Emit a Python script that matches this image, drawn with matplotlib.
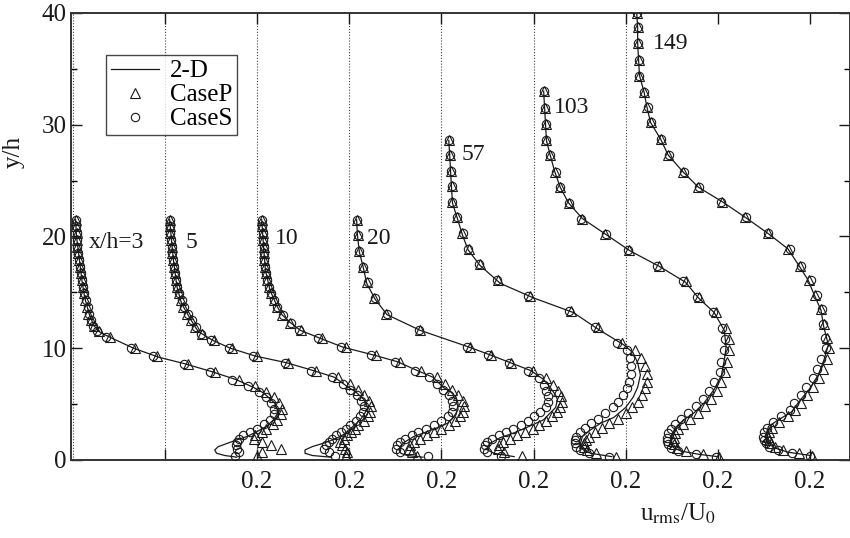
import matplotlib
matplotlib.use("Agg")
import matplotlib.pyplot as plt
from matplotlib.ticker import MultipleLocator

plt.rcParams["font.family"] = ["Liberation Serif", "DejaVu Serif"]
plt.rcParams["mathtext.fontset"] = "stix"

# streamwise stations x/h and their labels
x_stations = [3, 5, 10, 20, 57, 103, 149]
station_labels = ["x/h=3", "5", "10", "20", "57", "103", "149"]

# ---- 2-D computation (solid line): y/h and u_rms/U0 per station ----
line_y_3 = [21.5, 20, 18, 16, 14.5, 13, 12, 11.4, 10.8, 10.0, 9.2, 8.6, 7.9, 7.2, 6.5, 6.0, 5.1, 4.3, 3.6, 3.0,
            2.5, 2.1, 1.8, 1.5, 1.2, 0.9, 0.6, 0.4, 0.25]
line_u_3 = [0.003, 0.004, 0.007, 0.010, 0.013, 0.018, 0.023, 0.030, 0.045, 0.066, 0.093, 0.122, 0.151, 0.177,
            0.196, 0.207, 0.219, 0.223, 0.218, 0.210, 0.199, 0.189, 0.178, 0.168, 0.158, 0.154, 0.156, 0.165, 0.178]
line_y_5 = [21.5, 18, 15.5, 14, 12.7, 11.5, 10.7, 10.0, 9.3, 8.7, 8.0, 7.4, 6.5, 6.1, 5.4, 4.7, 4.2, 3.6, 3.0, 2.5,
            2.1, 1.8, 1.5, 1.2, 0.9, 0.6, 0.4, 0.25]
line_u_5 = [0.005, 0.009, 0.013, 0.018, 0.027, 0.036, 0.052, 0.071, 0.098, 0.132, 0.161, 0.184, 0.199, 0.207,
            0.216, 0.220, 0.217, 0.212, 0.204, 0.198, 0.190, 0.182, 0.172, 0.160, 0.152, 0.152, 0.160, 0.180]
line_y_10 = [21.5, 19.1, 17.0, 15.2, 13.7, 13.0, 12.3, 11.6, 10.9, 10.1, 9.4, 8.8, 8.0, 7.4, 6.5, 6.1, 5.6, 5.1,
             4.5, 3.8, 3.3, 2.9, 2.4, 2.1, 1.6, 1.2, 0.9, 0.6, 0.4, 0.25]
line_u_10 = [0.005, 0.007, 0.009, 0.014, 0.022, 0.027, 0.036, 0.047, 0.068, 0.093, 0.126, 0.152, 0.174, 0.191,
             0.202, 0.210, 0.216, 0.218, 0.218, 0.213, 0.207, 0.196, 0.180, 0.170, 0.160, 0.155, 0.154, 0.156,
             0.163, 0.180]
line_y_20 = [21.5, 20.0, 18.6, 17.3, 15.8, 14.4, 13.0, 11.6, 10.1, 9.4, 8.7, 8.0, 7.2, 6.5, 5.8, 5.4, 4.7, 4.2,
             3.6, 3.3, 3.0, 2.4, 2.0, 1.5, 1.2, 0.9, 0.6, 0.3]
line_u_20 = [0.008, 0.009, 0.011, 0.015, 0.019, 0.028, 0.041, 0.077, 0.130, 0.153, 0.175, 0.197, 0.211, 0.218,
             0.224, 0.226, 0.224, 0.218, 0.211, 0.203, 0.195, 0.178, 0.164, 0.153, 0.150, 0.150, 0.157, 0.179]
line_y_57 = [28.6, 27.3, 25.8, 24.4, 23.0, 21.7, 20.1, 18.8, 17.4, 15.8, 14.5, 13.2, 11.6, 10.3, 9.6, 8.7, 7.6,
             6.5, 5.6, 4.7, 3.8, 3.3, 2.7, 2.1, 1.5, 1.2, 0.9, 0.6, 0.3]
line_u_57 = [0.008, 0.009, 0.010, 0.011, 0.012, 0.017, 0.023, 0.029, 0.042, 0.064, 0.100, 0.143, 0.172, 0.198,
             0.208, 0.213, 0.216, 0.213, 0.208, 0.200, 0.187, 0.173, 0.162, 0.153, 0.151, 0.151, 0.154, 0.162, 0.185]
line_y_103 = [33.0, 31.5, 30.1, 28.6, 27.3, 25.8, 24.4, 23.0, 21.6, 20.1, 18.7, 17.3, 15.9, 14.5, 13.2, 11.6,
              10.1, 8.9, 7.6, 6.3, 5.1, 4.2, 3.6, 2.9, 2.1, 1.5, 1.1, 0.8, 0.5, 0.3]
line_u_103 = [0.011, 0.012, 0.013, 0.014, 0.018, 0.023, 0.029, 0.038, 0.053, 0.080, 0.105, 0.137, 0.165, 0.179,
              0.196, 0.207, 0.209, 0.207, 0.204, 0.196, 0.185, 0.174, 0.163, 0.154, 0.149, 0.149, 0.152, 0.160,
              0.180, 0.200]
line_y_149 = [40, 38.7, 37.3, 35.8, 34.4, 32.9, 31.6, 30.2, 28.7, 27.3, 25.8, 24.4, 23.1, 21.7, 20.3, 18.9, 17.4,
              16.1, 14.9, 13.4, 11.9, 10.3, 8.9, 7.6, 6.3, 5.2, 4.3, 3.6, 3.0, 2.2, 1.6, 1.1, 0.7, 0.4]
line_u_149 = [0.012, 0.013, 0.013, 0.014, 0.015, 0.020, 0.023, 0.027, 0.038, 0.046, 0.062, 0.079, 0.105, 0.130,
              0.154, 0.176, 0.188, 0.198, 0.204, 0.212, 0.215, 0.220, 0.215, 0.209, 0.199, 0.188, 0.180, 0.166,
              0.155, 0.152, 0.154, 0.161, 0.176, 0.201]

# ---- measured points: y/h, CaseP and CaseS u_rms/U0 ----
pts_y_3 = [21.5, 20.9, 20.3, 19.7, 19.1, 18.5, 17.9, 17.3, 16.7, 16.1, 15.5, 14.9, 14.3, 13.7, 13.1, 12.5, 12.0,
           11.5, 11.0, 10.0, 9.3, 8.6, 7.9, 7.2, 6.6, 6.1, 5.6, 5.1, 4.6, 4.1, 3.6, 3.2, 2.8, 2.5, 2.2, 1.9, 1.6,
           1.3, 1.0, 0.7, 0.4]
caseP_3 = [0.003, 0.003, 0.004, 0.004, 0.005, 0.006, 0.007, 0.008, 0.009, 0.010, 0.011, 0.012, 0.013, 0.015,
           0.017, 0.020, 0.023, 0.028, 0.040, 0.068, 0.091, 0.125, 0.154, 0.180, 0.198, 0.210, 0.218, 0.224,
           0.227, 0.226, 0.222, 0.217, 0.210, 0.205, 0.198, 0.197, 0.205, 0.215, 0.226, 0.205, 0.200]
caseS_3 = [0.003, 0.003, 0.004, 0.004, 0.005, 0.006, 0.007, 0.008, 0.009, 0.010, 0.011, 0.012, 0.014, 0.016,
           0.018, 0.020, 0.022, 0.026, 0.036, 0.063, 0.087, 0.121, 0.149, 0.173, 0.190, 0.202, 0.210, 0.215,
           0.218, 0.218, 0.214, 0.208, 0.200, 0.192, 0.185, 0.180, 0.178, 0.177, 0.178, 0.180, 0.176]
pts_y_5 = [21.5, 20.9, 20.3, 19.7, 19.1, 18.5, 17.9, 17.3, 16.7, 16.1, 15.5, 14.9, 14.3, 13.7, 13.1, 12.5, 11.9,
           11.3, 10.7, 10.0, 9.3, 8.7, 8.0, 7.4, 6.8, 6.3, 5.8, 5.3, 4.8, 4.3, 3.9, 3.5, 3.1, 2.8, 2.5, 2.2, 1.9,
           1.6, 1.3, 1.0, 0.7, 0.4]
caseP_5 = [0.005, 0.006, 0.006, 0.007, 0.008, 0.008, 0.009, 0.010, 0.011, 0.012, 0.013, 0.015, 0.017, 0.020,
           0.024, 0.028, 0.033, 0.040, 0.053, 0.073, 0.100, 0.134, 0.164, 0.188, 0.201, 0.209, 0.216, 0.221,
           0.224, 0.223, 0.220, 0.216, 0.210, 0.206, 0.202, 0.198, 0.194, 0.190, 0.192, 0.195, 0.198, 0.196]
caseS_5 = [0.005, 0.006, 0.006, 0.007, 0.008, 0.008, 0.009, 0.010, 0.011, 0.012, 0.013, 0.015, 0.018, 0.021,
           0.025, 0.029, 0.034, 0.039, 0.050, 0.069, 0.096, 0.130, 0.158, 0.181, 0.193, 0.201, 0.208, 0.213,
           0.216, 0.215, 0.212, 0.207, 0.201, 0.196, 0.191, 0.186, 0.181, 0.178, 0.175, 0.173, 0.178, 0.185]
pts_y_10 = [21.5, 20.9, 20.3, 19.7, 19.1, 18.5, 17.9, 17.3, 16.7, 16.1, 15.5, 14.9, 14.3, 13.7, 13.0, 12.3, 11.6,
            10.9, 10.1, 9.4, 8.8, 8.0, 7.4, 6.8, 6.3, 5.8, 5.3, 4.8, 4.3, 3.9, 3.5, 3.1, 2.8, 2.5, 2.2, 1.9, 1.6,
            1.3, 1.0, 0.7, 0.4]
caseP_10 = [0.005, 0.005, 0.006, 0.006, 0.007, 0.007, 0.008, 0.009, 0.010, 0.011, 0.013, 0.015, 0.018, 0.022,
            0.027, 0.036, 0.048, 0.070, 0.096, 0.129, 0.155, 0.178, 0.195, 0.204, 0.211, 0.218, 0.223, 0.225,
            0.224, 0.220, 0.215, 0.208, 0.200, 0.192, 0.184, 0.177, 0.170, 0.166, 0.165, 0.168, 0.174]
caseS_10 = [0.005, 0.005, 0.006, 0.006, 0.007, 0.007, 0.008, 0.009, 0.010, 0.011, 0.013, 0.015, 0.018, 0.022,
            0.028, 0.037, 0.046, 0.066, 0.091, 0.124, 0.150, 0.171, 0.187, 0.195, 0.202, 0.208, 0.212, 0.213,
            0.211, 0.207, 0.200, 0.192, 0.183, 0.175, 0.168, 0.161, 0.155, 0.152, 0.151, 0.155, 0.185]
pts_y_20 = [21.5, 20.1, 18.7, 17.3, 15.9, 14.5, 13.1, 11.6, 10.1, 9.4, 8.7, 8.0, 7.3, 6.7, 6.2, 5.7, 5.2, 4.7,
            4.3, 3.9, 3.5, 3.1, 2.8, 2.5, 2.2, 1.9, 1.6, 1.3, 1.0, 0.7, 0.4]
caseP_20 = [0.008, 0.009, 0.011, 0.015, 0.019, 0.027, 0.040, 0.077, 0.131, 0.154, 0.176, 0.199, 0.214, 0.221,
            0.227, 0.230, 0.231, 0.229, 0.225, 0.220, 0.214, 0.206, 0.199, 0.191, 0.182, 0.174, 0.167, 0.162,
            0.161, 0.168, 0.188]
caseS_20 = [0.008, 0.009, 0.011, 0.015, 0.020, 0.028, 0.041, 0.076, 0.128, 0.151, 0.173, 0.194, 0.206, 0.211,
            0.214, 0.216, 0.216, 0.213, 0.207, 0.201, 0.194, 0.186, 0.178, 0.170, 0.162, 0.155, 0.150, 0.147,
            0.146, 0.150, 0.165]
pts_y_57 = [28.6, 27.3, 25.9, 24.5, 23.1, 21.7, 20.3, 18.9, 17.5, 16.1, 14.7, 13.3, 11.9, 10.5, 9.8, 9.1, 8.4,
            7.7, 7.0, 6.4, 5.8, 5.2, 4.7, 4.2, 3.7, 3.3, 2.9, 2.5, 2.1, 1.8, 1.5, 1.2, 0.9, 0.6, 0.3]
caseP_57 = [0.008, 0.009, 0.010, 0.011, 0.012, 0.017, 0.022, 0.030, 0.042, 0.061, 0.096, 0.141, 0.170, 0.196,
            0.210, 0.217, 0.221, 0.223, 0.223, 0.221, 0.218, 0.213, 0.207, 0.200, 0.192, 0.182, 0.174, 0.167,
            0.160, 0.157, 0.155, 0.155, 0.158, 0.168, 0.190]
caseS_57 = [0.008, 0.009, 0.010, 0.011, 0.012, 0.017, 0.023, 0.029, 0.041, 0.060, 0.094, 0.139, 0.167, 0.191,
            0.201, 0.205, 0.206, 0.206, 0.204, 0.201, 0.197, 0.192, 0.186, 0.178, 0.170, 0.162, 0.156, 0.150,
            0.146, 0.145, 0.145, 0.146, 0.150, 0.160, 0.182]
pts_y_103 = [33.0, 31.5, 30.1, 28.6, 27.3, 25.8, 24.4, 23.0, 21.6, 20.2, 18.8, 17.4, 16.0, 14.6, 13.2, 11.8,
             10.8, 9.8, 8.8, 7.9, 7.0, 6.2, 5.5, 4.8, 4.2, 3.7, 3.2, 2.8, 2.4, 2.0, 1.7, 1.4, 1.1, 0.8, 0.5, 0.3]
caseP_103 = [0.011, 0.012, 0.013, 0.014, 0.018, 0.023, 0.029, 0.038, 0.053, 0.078, 0.104, 0.136, 0.165, 0.180,
             0.198, 0.209, 0.212, 0.212, 0.210, 0.208, 0.204, 0.199, 0.193, 0.186, 0.179, 0.170, 0.162, 0.157,
             0.154, 0.152, 0.151, 0.152, 0.156, 0.166, 0.184, 0.201]
caseS_103 = [0.011, 0.012, 0.013, 0.014, 0.018, 0.024, 0.029, 0.039, 0.052, 0.079, 0.102, 0.134, 0.162, 0.177,
             0.195, 0.205, 0.208, 0.207, 0.204, 0.202, 0.196, 0.190, 0.184, 0.176, 0.168, 0.160, 0.153, 0.149,
             0.146, 0.145, 0.145, 0.146, 0.149, 0.157, 0.176, 0.198]
pts_y_149 = [40.0, 38.7, 37.3, 35.8, 34.4, 32.9, 31.6, 30.2, 28.7, 27.3, 25.8, 24.4, 23.1, 21.7, 20.3, 18.9,
             17.4, 16.1, 14.8, 13.5, 12.2, 10.9, 10.0, 9.0, 8.1, 7.3, 6.5, 5.8, 5.1, 4.5, 3.9, 3.4, 2.9, 2.5,
             2.1, 1.8, 1.5, 1.2, 0.9, 0.6, 0.4]
caseP_149 = [0.012, 0.013, 0.013, 0.014, 0.015, 0.020, 0.023, 0.027, 0.038, 0.046, 0.062, 0.079, 0.105, 0.130,
             0.154, 0.176, 0.189, 0.199, 0.205, 0.212, 0.215, 0.219, 0.221, 0.218, 0.214, 0.210, 0.203, 0.197,
             0.190, 0.184, 0.176, 0.166, 0.159, 0.156, 0.155, 0.156, 0.158, 0.162, 0.171, 0.188, 0.202]
caseS_149 = [0.012, 0.013, 0.013, 0.014, 0.015, 0.020, 0.024, 0.028, 0.038, 0.047, 0.063, 0.080, 0.104, 0.131,
             0.155, 0.178, 0.190, 0.201, 0.208, 0.213, 0.214, 0.216, 0.217, 0.212, 0.208, 0.203, 0.196, 0.190,
             0.183, 0.178, 0.169, 0.160, 0.153, 0.150, 0.149, 0.150, 0.152, 0.156, 0.165, 0.180, 0.200]

# label anchor for each station (x in local u units, y/h)
label_u = [0.017, 0.022, 0.019, 0.019, 0.022, 0.022, 0.030]
label_y = [19.5, 19.5, 19.8, 19.8, 27.3, 31.5, 37.3]

profiles = [
    (line_y_3, line_u_3, pts_y_3, caseP_3, caseS_3),
    (line_y_5, line_u_5, pts_y_5, caseP_5, caseS_5),
    (line_y_10, line_u_10, pts_y_10, caseP_10, caseS_10),
    (line_y_20, line_u_20, pts_y_20, caseP_20, caseS_20),
    (line_y_57, line_u_57, pts_y_57, caseP_57, caseS_57),
    (line_y_103, line_u_103, pts_y_103, caseP_103, caseS_103),
    (line_y_149, line_u_149, pts_y_149, caseP_149, caseS_149),
]

SHIFT = 0.1   # horizontal offset between successive stations
INK = "#1a1a1a"

fig = plt.figure(figsize=(8.5, 5.38), dpi=100)
ax = fig.add_axes([0.0835, 0.145, 0.916, 0.831])

for i, (ly, lu, py, pP, pS) in enumerate(profiles):
    off = i * SHIFT
    ax.axvline(off, color="#444444", ls=(0, (1, 1.6)), lw=0.8, zorder=1)
    ax.plot([off + u for u in lu], ly, color=INK, lw=0.9, zorder=2,
            label="2-D" if i == 0 else None)
    ax.plot([off + u for u in pP], py, ls="none", marker="^", ms=6.5, mfc="none",
            mec=INK, mew=0.8, zorder=3, label="CaseP" if i == 0 else None)
    ax.plot([off + u for u in pS], py, ls="none", marker="o", ms=6.0, mfc="none",
            mec=INK, mew=0.8, zorder=3, label="CaseS" if i == 0 else None)
    ax.text(off + label_u[i], label_y[i], station_labels[i], fontsize=17,
            ha="left", va="center", color=INK)

ax.set_xlim(-0.002, 0.843)
ax.set_ylim(0, 40)

xt = [SHIFT * k for k in range(1, 9)]
ax.set_xticks(xt)
ax.set_xticklabels(["" if k == 1 else "0.2" for k in range(1, 9)])
ax.yaxis.set_major_locator(MultipleLocator(10))
ax.yaxis.set_minor_locator(MultipleLocator(5))
ax.tick_params(axis="both", which="major", direction="in", length=8, width=1,
               top=True, right=True, labelsize=18, colors=INK)
ax.tick_params(axis="y", which="minor", direction="in", length=4, width=1, right=True)
ax.tick_params(axis="x", which="major", pad=8)
ax.tick_params(axis="y", which="major", pad=3)

for s in ax.spines.values():
    s.set_linewidth(1.4)
    s.set_color("#333333")

ax.set_ylabel("y/h", fontsize=18, color=INK)
ax.yaxis.set_label_coords(-0.059, 0.689)
ax.set_xlabel(r"u$_{\mathrm{rms}}$/U$_0$", fontsize=18, color=INK)
ax.xaxis.set_label_coords(0.78, -0.094)

leg = ax.legend(loc="upper left", bbox_to_anchor=(0.045, 0.906), borderaxespad=0,
                fontsize=18, frameon=True, fancybox=False, edgecolor=INK,
                handlelength=1.9, handletextpad=0.45, borderpad=0.2, labelspacing=0.06)
leg.get_frame().set_linewidth(1.0)

fig.savefig("out.png", dpi=100)
